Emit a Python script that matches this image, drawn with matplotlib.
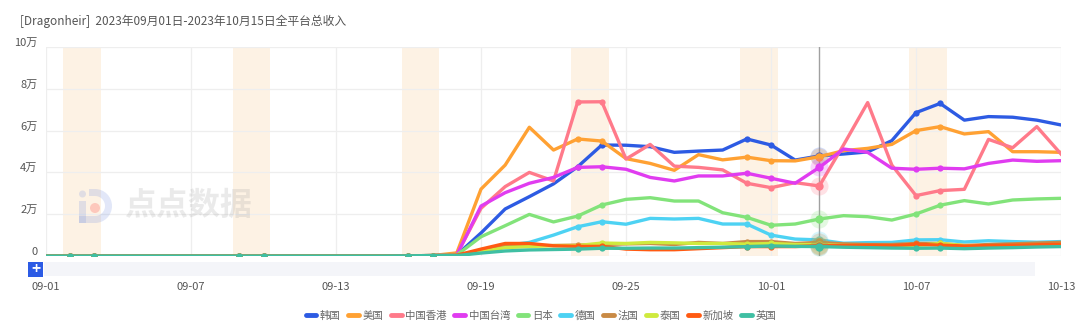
import matplotlib
matplotlib.use("Agg")
import matplotlib.pyplot as plt
import numpy as np
import pandas as pd
from matplotlib.lines import Line2D
from matplotlib.patches import Rectangle, Wedge, Circle
from matplotlib.transforms import ScaledTranslation

plt.rcParams['font.family'] = ['Noto Sans CJK SC', 'DejaVu Sans']

# ---------------- data ----------------
dates = pd.date_range('2023-09-01', '2023-10-13', freq='D')
x_tick_labels = ['09-01', '09-07', '09-13', '09-19', '09-25', '10-01', '10-07', '10-13']
y_tick_values = [0, 20000, 40000, 60000, 80000, 100000]
y_tick_labels = ['0', '2万', '4万', '6万', '8万', '10万']
series_names = ['韩国', '美国', '中国香港', '中国台湾', '日本', '德国', '法国', '泰国', '新加坡', '英国']
series_colors = ['#2D5BE3', '#FFA133', '#FF7A8A', '#E03CF0', '#82E37A', '#4DD2F3',
                 '#C98A45', '#CFEA3E', '#FF5A12', '#3FBFA3']

zeros17 = [0, 0, 0, 0, 0, 0, 0, 0, 0, 0, 0, 0, 0, 0, 0, 100, 200]
kr = zeros17 + [500, 11000, 22500, 28400, 34500, 42700, 53100, 53000, 52300, 49600, 50200, 50700,
                56000, 53100, 45900, 47900, 48800, 49800, 55200, 68600, 73000, 65000, 66700,
                66400, 65000, 62700]
us = zeros17 + [1500, 32000, 43500, 61600, 50700, 56000, 55000, 46600, 44300, 41000, 48500, 46000,
                47300, 45600, 45500, 47500, 50400, 51500, 53400, 60000, 61900, 58400, 59500,
                49900, 49900, 49600]
hk = zeros17 + [800, 22800, 33200, 40000, 35900, 73700, 73800, 46400, 53400, 43000, 42400, 41200,
                34800, 32700, 35100, 33500, 53100, 73400, 43500, 28900, 31300, 31900, 55800,
                51800, 61900, 48800]
tw = zeros17 + [500, 23900, 30300, 34800, 37600, 42400, 42700, 41500, 37600, 35900, 38300, 38300,
                39600, 37200, 34800, 42400, 51200, 49600, 42000, 41500, 42000, 41700, 44300,
                45900, 45300, 45600]
jp = zeros17 + [500, 9200, 14500, 19900, 16300, 19100, 24400, 27100, 27900, 26300, 26300, 20700,
                18500, 14700, 15300, 17700, 19300, 18800, 17200, 20100, 24300, 26500, 24900,
                26800, 27300, 27600]
de = zeros17 + [300, 2500, 5000, 6500, 10000, 14000, 16400, 15200, 18000, 17700, 18000, 15300,
                15300, 10000, 8100, 7700, 6100, 6400, 6500, 7700, 7800, 6700, 7300, 6900, 6600, 6900]
fr = zeros17 + [300, 2500, 4500, 5000, 5000, 5200, 5500, 5800, 6000, 5500, 6500, 6000,
                6900, 6900, 6000, 6500, 5800, 5500, 5500, 6000, 6000, 5000, 5500, 5800, 6200, 6500]
th = zeros17 + [300, 2000, 4000, 4500, 5000, 5000, 6200, 6000, 6500, 6300, 6000, 6000,
                5700, 6000, 5500, 5500, 5000, 5000, 4800, 5000, 6000, 5000, 4800, 5000, 5200, 5500]
sg = zeros17 + [400, 3300, 6000, 6000, 4900, 4600, 4600, 3300, 3000, 3000, 3500, 4000,
                4500, 4500, 4500, 5000, 5000, 5200, 5000, 5600, 5200, 4800, 5000, 5200, 5400, 5600]
uk = zeros17 + [200, 1400, 2400, 2900, 3100, 3300, 3700, 3700, 3800, 3800, 4000, 4200,
                4500, 4800, 4600, 4500, 4200, 4000, 3800, 3700, 3800, 3500, 3800, 4000, 4300, 4500]
series_values = [kr, us, hk, tw, jp, de, fr, th, sg, uk]
hover_date = '2023-10-03'

# ---------------- figure ----------------
W, H = 1080, 329
fig = plt.figure(figsize=(W / 100, H / 100), dpi=100)
fig.patch.set_facecolor('white')

def fx(px):
    return px / W

def fy(py):
    return 1 - py / H

ax = fig.add_axes([fx(46), fy(256), fx(1061) - fx(46), fy(47) - fy(256)])
idx = np.arange(len(dates))
ax.set_xlim(0, len(dates) - 1)
ax.set_ylim(0, 100000)

# weekend shading
weekend_idx = [i for i, d in enumerate(dates) if d.dayofweek >= 5]
for i, d in enumerate(dates):
    if d.dayofweek == 5:
        ax.axvspan(i - 0.28, i + 1.28, color='#FDF2E4', zorder=0, lw=0)

# grid
for v in y_tick_values:
    ax.axhline(v, color='#EEEEEE', lw=0.9, zorder=1)
tick_pos = [i for i, d in enumerate(dates) if d.strftime('%m-%d') in x_tick_labels]
for t in tick_pos:
    ax.axvline(t, color='#EEEEEE', lw=0.9, zorder=1)
for s in ax.spines.values():
    s.set_visible(False)

ax.set_yticks(y_tick_values)
ax.set_yticklabels(y_tick_labels)
ax.set_xticks(tick_pos)
ax.set_xticklabels([dates[t].strftime('%m-%d') for t in tick_pos])
ax.tick_params(axis='both', length=0, labelsize=8, labelcolor='#555555')
ax.tick_params(axis='y', pad=6)
ax.tick_params(axis='x', pad=19)
for lab in ax.get_yticklabels():
    lab.set_transform(lab.get_transform() + ScaledTranslation(0, 5 / 100, fig.dpi_scale_trans))

# hover line
hi = list(dates.strftime('%Y-%m-%d')).index(hover_date)
ax.axvline(hi, color='#A0A0A0', lw=1, zorder=2)

# series
for k, (name, vals, col) in enumerate(zip(series_names, series_values, series_colors)):
    v = np.array(vals, dtype=float)
    ax.plot(idx, v, color=col, lw=2.4, zorder=3 + k, solid_joinstyle='round')
    ax.plot(np.array(weekend_idx), v[weekend_idx], 'o', color=col, ms=4.5, zorder=3 + k,
            markeredgewidth=0)
    ax.plot([hi], [v[hi]], 'o', color=col, ms=13, alpha=0.22, zorder=3 + k, markeredgewidth=0)
    ax.plot([hi], [v[hi]], 'o', color=col, ms=6, zorder=3 + k, markeredgewidth=0)

# title
fig.text(fx(20), fy(21), '[Dragonheir]  2023年09月01日-2023年10月15日全平台总收入',
         fontsize=8.5, color='#555555', va='center', ha='left')

# watermark text
fig.text(fx(124), fy(206), '点点数据', fontsize=23, fontweight='bold', color='#9A9A9A',
         alpha=0.2, va='center', ha='left')
# watermark logo (own equal-aspect axes)
lax = fig.add_axes([fx(76), fy(225), fx(114) - fx(76), fy(187) - fy(225)])
lax.set_xlim(0, 38)
lax.set_ylim(0, 38)
lax.set_aspect('equal')
lax.axis('off')
lax.add_patch(Wedge((19, 19), 17, -90, 90, width=7, color='#7B95E0', alpha=0.22, lw=0))
lax.add_patch(Rectangle((3, 2), 16, 7, color='#7B95E0', alpha=0.22, lw=0))
lax.add_patch(Rectangle((3, 2), 7, 22, color='#7B95E0', alpha=0.22, lw=0))
lax.add_patch(Circle((6.5, 31), 3.5, color='#7B95E0', alpha=0.22, lw=0))
lax.add_patch(Rectangle((13, 29), 6, 7, color='#7B95E0', alpha=0.22, lw=0))
lax.add_patch(Circle((19, 17), 5, color='#FF8A80', alpha=0.4, lw=0))

# data zoom bar
fig.patches.append(Rectangle((fx(44), fy(276)), fx(1035) - fx(44), fy(262) - fy(276),
                             transform=fig.transFigure, color='#F4F5F9', lw=0))
fig.patches.append(Rectangle((fx(28), fy(277)), fx(15), fy(262) - fy(277),
                             transform=fig.transFigure, color='#2C5BE5', lw=0))
fig.text(fx(35.5), fy(269.5), '+', color='white', fontsize=11, ha='center', va='center',
         fontweight='bold')

# legend
handles = [Line2D([0], [0], color=c, lw=3.5, solid_capstyle='round') for c in series_colors]
leg = fig.legend(handles, series_names, loc='center', bbox_to_anchor=(fx(541), fy(316)),
                 ncol=10, frameon=False, fontsize=7.5, handlelength=1.0, handletextpad=0.35,
                 columnspacing=0.75)
for t in leg.get_texts():
    t.set_color('#666666')

fig.savefig('out.png', dpi=100)
